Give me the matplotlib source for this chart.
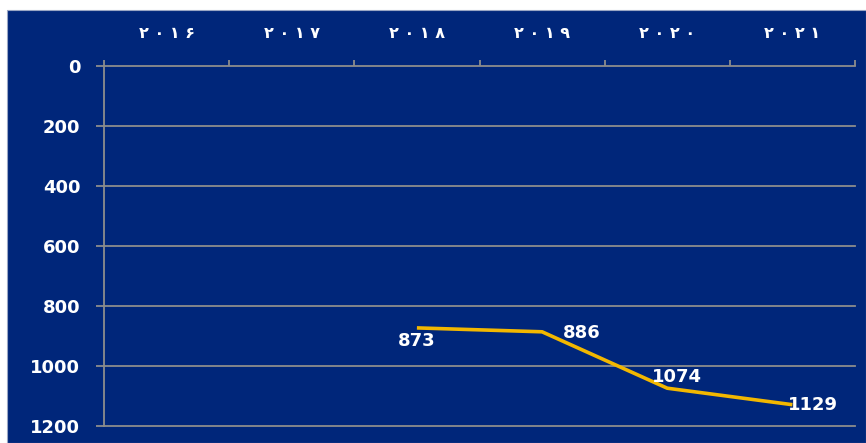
import matplotlib
matplotlib.use("Agg")
import matplotlib.pyplot as plt
from matplotlib.patches import Rectangle

years = ["۲۰۱۶", "۲۰۱۷", "۲۰۱۸", "۲۰۱۹", "۲۰۲۰", "۲۰۲۱"]
line_years_idx = [2, 3, 4, 5]
values = [873, 886, 1074, 1129]
yticks = [0, 200, 400, 600, 800, 1000, 1200]

W, H = 866, 443
fig = plt.figure(figsize=(W / 100, H / 100), dpi=100, facecolor="white")
navy = "#00267A"
fig.patches.append(Rectangle((7 / W, 0), 1 - 7 / W, 1 - 10 / H, transform=fig.transFigure,
                             facecolor=navy, edgecolor="#9aa6c4", linewidth=0.8, zorder=-10))

ax = fig.add_axes([104 / W, 1 - 426 / H, (855 - 104) / W, (426 - 66) / H])
ax.set_zorder(5)
ax.patch.set_alpha(0)

grid_c = "#8C8C8C"
ax.set_xlim(0, 6)
ax.set_ylim(1200, 0)
ax.set_yticks(yticks)
ax.set_yticklabels([str(v) for v in yticks])
for v in yticks:
    ax.axhline(v, color=grid_c, lw=1.3, zorder=1, clip_on=False)

ax.xaxis.tick_top()
ax.set_xticks(range(7))
ax.set_xticklabels([])
ax.set_xticks([i + 0.5 for i in range(6)], minor=True)
ax.set_xticklabels([" ".join(y) for y in years], minor=True, family=["DejaVu Sans"], fontweight="bold")
ax.tick_params(axis="x", which="major", direction="out", length=4.3, width=1.3, color=grid_c, top=True, bottom=False)
ax.tick_params(axis="x", which="minor", length=0, pad=18, labelsize=11.5, labelcolor="white", top=True, bottom=False)
ax.tick_params(axis="y", direction="out", length=6, width=1.3, color=grid_c, labelsize=13,
               labelcolor="white", pad=11)
for lab in ax.get_yticklabels():
    lab.set_fontweight("bold")

for s in ["right", "bottom", "top"]:
    ax.spines[s].set_visible(False)
ax.spines["left"].set_color(grid_c)
ax.spines["left"].set_linewidth(1.3)

xs = [i + 0.5 for i in line_years_idx]
ax.plot(xs, values, color="#F2B700", lw=2.6, zorder=3, solid_capstyle="butt")

offsets = [(0, -13), (40, -1), (10, 11), (21, 0)]
for x, v, (dx, dy) in zip(xs, values, offsets):
    ax.annotate(str(v), (x, v), xytext=(dx, dy), textcoords="offset pixels",
                ha="center", va="center", color="white", fontsize=13, fontweight="bold", zorder=4)

fig.savefig("out.png", dpi=100, facecolor="white")
